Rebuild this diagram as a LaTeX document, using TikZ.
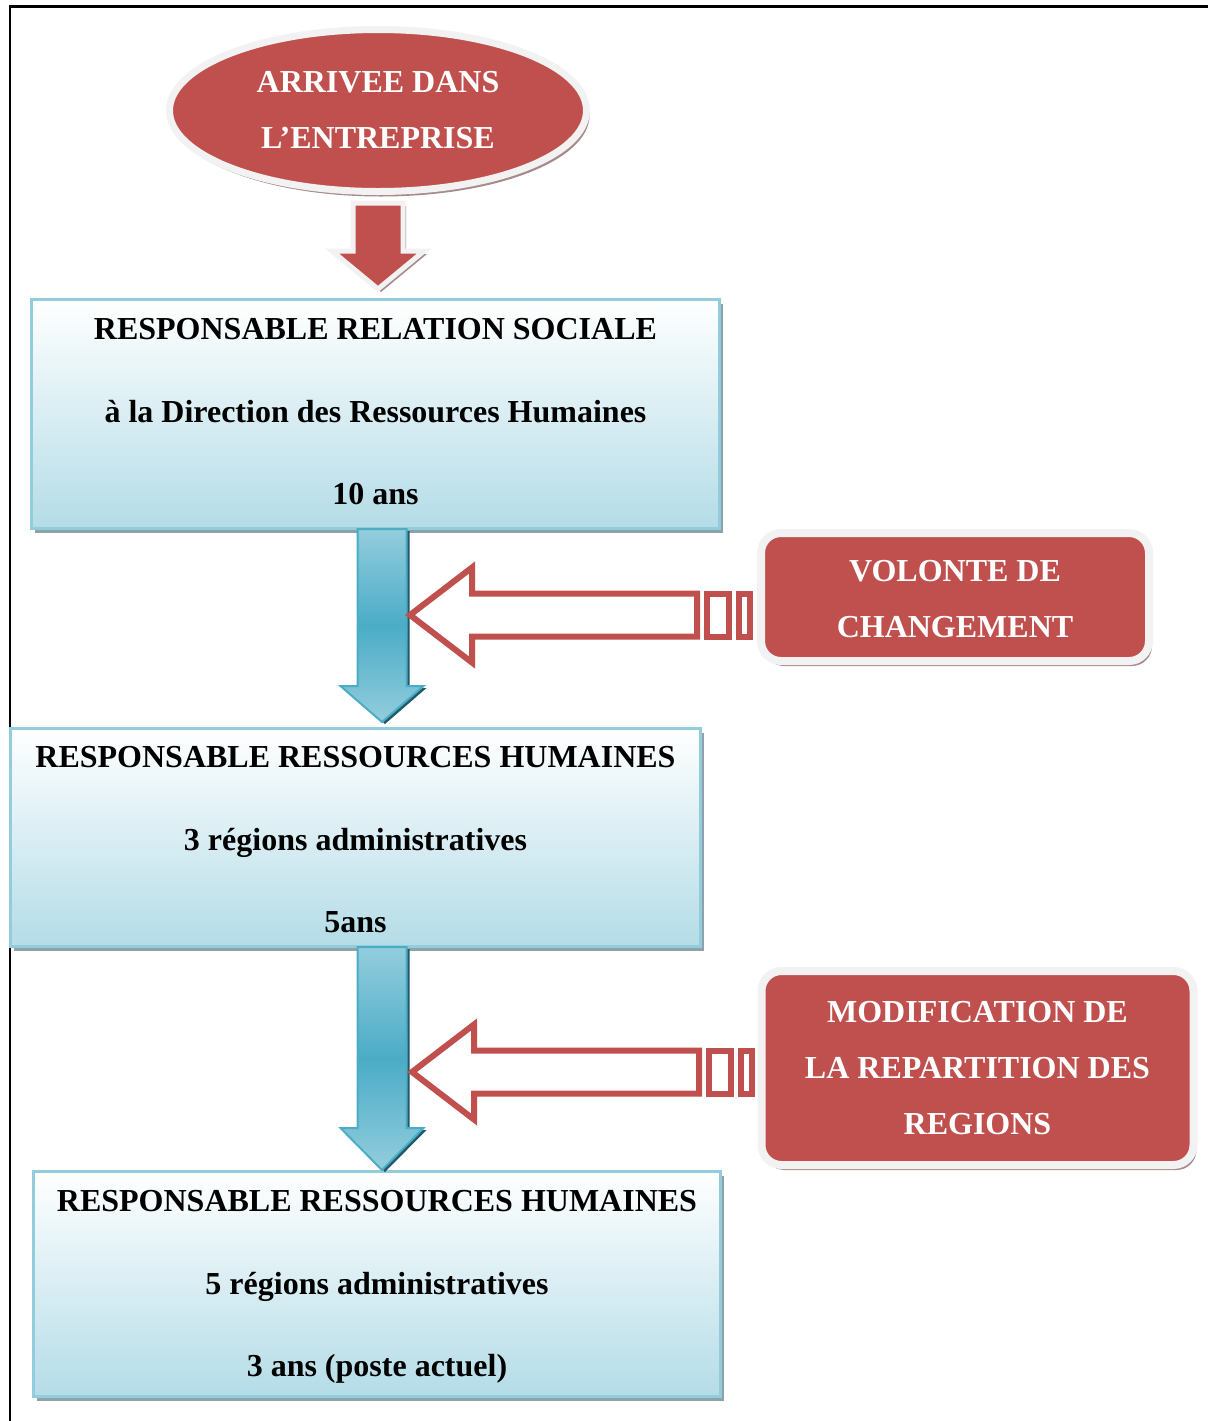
\documentclass[tikz,border=0pt]{standalone}
\usepackage{fontspec}
\setmainfont{Liberation Serif}
\usetikzlibrary{calc,shapes.geometric,shadows}
\definecolor{redfill}{HTML}{C0504D}
\definecolor{rim}{HTML}{F2F2F2}
\definecolor{redshadow}{HTML}{A88A8A}
\definecolor{blueborder}{HTML}{93CDDD}
\definecolor{bluelight}{HTML}{B4DCE7}
\definecolor{blueshadow}{HTML}{8EA3A9}
\definecolor{arrowlight}{HTML}{93CDDD}
\definecolor{arrowdark}{HTML}{4BACC6}
\definecolor{arrowshadow}{HTML}{215968}
\newcommand\myBlueArrow[3]{%
  \draw[bluearr] ($(#1)+(-24.5,0)$) -- ($(#1)+(24.5,0)$) -- ($(#2)+(24.5,-#3)$)
    -- ($(#2)+(41.5,-#3)$) -- (#2) -- ($(#2)+(-41.5,-#3)$) -- ($(#2)+(-24.5,-#3)$) -- cycle;}
\newcommand\myHollowArrow[1]{%
  \draw[hollowarr] (#1) -- ++(62,-47.5) -- ++(0,26) -- ++(225,0) -- ++(0,43)
    -- ++(-225,0) -- ++(0,26) -- cycle;
  \draw[hollowarr] ($(#1)+(297,-21.5)$) rectangle ($(#1)+(319,21.5)$);
  \draw[hollowarr] ($(#1)+(329,-21.5)$) rectangle ($(#1)+(340,21.5)$);}
% extra height on top (moves block down) / extra depth below (moves block up)
\newcommand\myTopPad[2]{\raisebox{0pt}[\dimexpr\height+#1\relax]{#2}}
\newcommand\myBotPad[2]{\raisebox{0pt}[\height][\dimexpr\depth+#1\relax]{#2}}
\begin{document}
\begin{tikzpicture}[x=0.5pt,y=-0.5pt,
  redshape/.style={fill=redfill, draw=rim, text=white,
    font=\bfseries\fontsize{16}{28}\selectfont, align=center, inner sep=0pt,
    general shadow={fill=redshadow, shadow xshift=1.5pt, shadow yshift=-2.5pt}},
  bluebox/.style={draw=blueborder, line width=1.5pt, top color=white, bottom color=bluelight,
    font=\bfseries\fontsize{16}{41.25}\selectfont, align=center, inner sep=0pt,
    general shadow={fill=blueshadow, shadow xshift=1.5pt, shadow yshift=-2pt}},
  bluearr/.style={draw=arrowdark, line width=1pt, top color=arrowlight,
    bottom color=arrowlight, middle color=arrowdark,
    general shadow={fill=arrowshadow, shadow xshift=1.5pt, shadow yshift=-1pt}},
  hollowarr/.style={draw=redfill, line width=3pt, fill=white, miter limit=10},
  redarr/.style={fill=redfill, draw=rim, line width=2.5pt,
    general shadow={fill=redshadow, shadow xshift=1.5pt, shadow yshift=-1.5pt}}]
\useasboundingbox (0,0) rectangle (1208,1421);
\fill[white] (0,0) rectangle (1208,1421);
% page frame
\draw[line width=1.5pt] (9,6) -- (1208,6);
\draw[line width=1pt] (9.5,5) -- (9.5,1421);

% nodes
\node[redshape, ellipse, line width=3.5pt, minimum width=208.5pt, minimum height=81pt]
  (ell) at (378,110.5) {ARRIVEE DANS\\L’ENTREPRISE};
\node[bluebox, minimum width=344pt, minimum height=114.5pt] (b1) at (375.5,414)
  {RESPONSABLE RELATION SOCIALE\\à la Direction des Ressources Humaines\\\myBotPad{2pt}{10 ans}};
\node[bluebox, minimum width=345pt, minimum height=109pt] (b2) at (355.5,837.5)
  {\myTopPad{2.5pt}{RESPONSABLE RESSOURCES HUMAINES}\\3 régions administratives\\5ans};
\node[bluebox, minimum width=343.5pt, minimum height=112.5pt] (b3) at (377,1284)
  {\myTopPad{3pt}{RESPONSABLE RESSOURCES HUMAINES}\\5 régions administratives\\3 ans (poste actuel)};
\node[redshape, rounded corners=10pt, line width=4pt, minimum width=194pt, minimum height=64pt]
  (r1) at (955,597) {\myTopPad{2pt}{VOLONTE DE}\\CHANGEMENT};
\node[redshape, rounded corners=10pt, line width=4pt, minimum width=216pt, minimum height=97pt]
  (r2) at (977.5,1068) {MODIFICATION DE\\LA REPARTITION DES\\REGIONS};

% red arrow from ellipse to first box
\coordinate (e0) at ($(ell.south)+(0,8)$);
\coordinate (e1) at ($(e0 |- b1.north)+(0,-9)$);
\draw[redarr] ($(e0)+(-25,0)$) -- ($(e0)+(25,0)$) -- ($(e1)+(25,-38)$) -- ($(e1)+(46,-38)$)
  -- (e1) -- ($(e1)+(-46,-38)$) -- ($(e1)+(-25,-38)$) -- cycle;

% blue arrows between boxes
\coordinate (a1s) at ($(b1.south)+(6.5,-1)$);
\coordinate (a1e) at ($(a1s |- b2.north)+(0,-5)$);
\myBlueArrow{a1s}{a1e}{36}
\coordinate (a2s) at ($(b2.south)+(26.5,-1)$);
\coordinate (a2e) at ($(a2s |- b3.north)+(0,0)$);
\myBlueArrow{a2s}{a2e}{42}

% hollow red arrows from red boxes to blue arrows
\coordinate (t1) at ($(a1s)+(28,86)$);
\myHollowArrow{t1}
\coordinate (t2) at ($(a2s)+(30,125)$);
\myHollowArrow{t2}
\end{tikzpicture}
\end{document}
